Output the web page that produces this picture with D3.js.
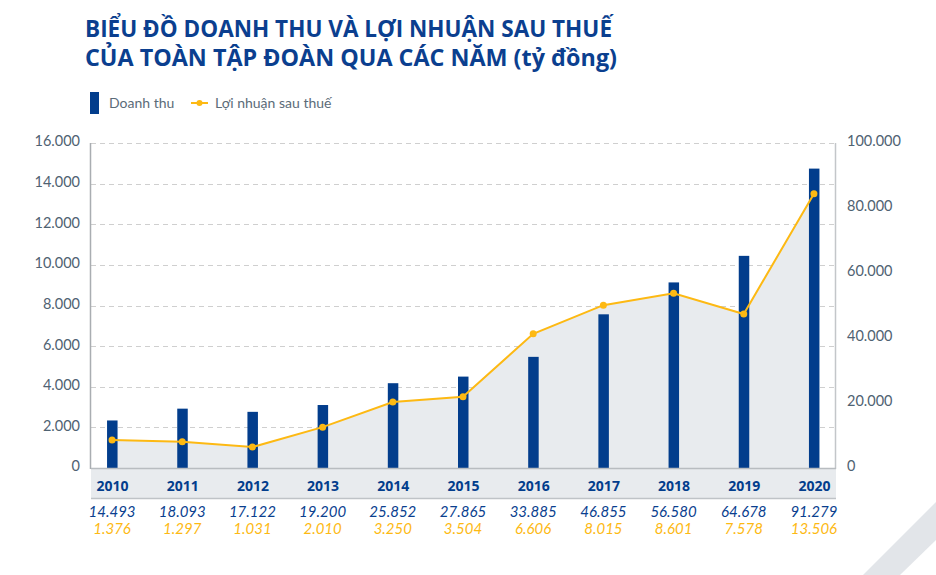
<!DOCTYPE html>
<html><head><meta charset="utf-8">
<script src="https://cdn.jsdelivr.net/npm/d3@7/dist/d3.min.js"></script>
<style>
body{margin:0;background:#fff;}
svg{display:block;font-family:"Lato","Open Sans",sans-serif;}
</style></head>
<body><svg id="c" width="936" height="575"></svg>
<script>
const years = ["2010","2011","2012","2013","2014","2015","2016","2017","2018","2019","2020"];
const revenue = [14493,18093,17122,19200,25852,27865,33885,46855,56580,64678,91279];
const profit = [1376,1297,1031,2010,3250,3504,6606,8015,8601,7578,13506];
const leftTicks = [0,2000,4000,6000,8000,10000,12000,14000,16000];
const rightTicks = [0,20000,40000,60000,80000,100000];
const titleLines = ["BIỂU ĐỒ DOANH THU VÀ LỢI NHUẬN SAU THUẾ","CỦA TOÀN TẬP ĐOÀN QUA CÁC NĂM (tỷ đồng)"];
const legendLabels = ["Doanh thu","Lợi nhuận sau thuế"];

const fmt = v => d3.format(",")(v).replace(/,/g,".");
const BLUE = "#023d8c", GOLD = "#fdb913", AXIS = "#4f6272";
const svg = d3.select("#c");
const L = 91, R = 835, T = 143, B = 468;

const x = d3.scalePoint().domain(years).range([L,R]).padding(0.3);
const yL = d3.scaleLinear().domain([0,16000]).range([B,T]);
const yR = d3.scaleLinear().domain([0,100000]).range([B,T-3]);

// decorative stripe
svg.append("polygon").attr("points","863,575 936,502 936,540 900,575").attr("fill","#e2e5e9");

// title
const titleW = [527,532];
svg.append("g").selectAll("text").data(titleLines).join("text")
  .attr("x",85).attr("y",(d,i)=>37+i*29)
  .attr("font-family","'Open Sans',sans-serif").attr("font-weight",700).attr("font-size",22.5)
  .attr("textLength",(d,i)=>titleW[i]).attr("lengthAdjust","spacingAndGlyphs")
  .attr("fill","#0b3f8f").text(d=>d);

// legend
svg.append("rect").attr("x",90).attr("y",92).attr("width",9).attr("height",22).attr("fill",BLUE);
svg.append("text").attr("x",109).attr("y",108).attr("font-size",14).attr("fill","#5b6b78").text(legendLabels[0]);
svg.append("line").attr("x1",191).attr("x2",208).attr("y1",103).attr("y2",103).attr("stroke",GOLD).attr("stroke-width",2);
svg.append("circle").attr("cx",199.5).attr("cy",103).attr("r",3).attr("fill",GOLD);
svg.append("text").attr("x",215).attr("y",108).attr("font-size",14).attr("fill","#5b6b78").text(legendLabels[1]);

// grid
svg.append("g").selectAll("line").data(leftTicks.slice(1)).join("line")
  .attr("x1",L).attr("x2",R).attr("y1",d=>Math.round(yL(d))+0.5).attr("y2",d=>Math.round(yL(d))+0.5)
  .attr("stroke","#cfcfcf").attr("stroke-dasharray","5,4");

// area
const area = d3.area().x((d,i)=>x(years[i])).y0(B).y1(d=>yL(d));
svg.append("path").datum(profit).attr("d",area).attr("fill","#e8ebee");

// bottom band
svg.append("rect").attr("x",L).attr("y",B+1).attr("width",R-L+1).attr("height",29).attr("fill","#e8ebee");
svg.append("line").attr("x1",L).attr("x2",R+1).attr("y1",B+30.5).attr("y2",B+30.5).attr("stroke","#bfc3c7").attr("stroke-width",1.5);

// bars
svg.append("g").selectAll("rect").data(revenue).join("rect")
  .attr("x",(d,i)=>x(years[i])-5).attr("width",10.5)
  .attr("y",d=>yR(d)).attr("height",d=>B-yR(d)).attr("fill",BLUE);

// axes lines
svg.append("line").attr("x1",L-0.5).attr("x2",L-0.5).attr("y1",T).attr("y2",B+1).attr("stroke","#a9adb1").attr("stroke-width",1.5);
svg.append("line").attr("x1",R+0.5).attr("x2",R+0.5).attr("y1",T).attr("y2",B+1).attr("stroke","#c3c6c9").attr("stroke-width",1.5);
svg.append("line").attr("x1",L).attr("x2",R+1).attr("y1",B+0.5).attr("y2",B+0.5).attr("stroke","#b8bcc0").attr("stroke-width",1.5);

// line
const line = d3.line().x((d,i)=>x(years[i])).y(d=>yL(d));
svg.append("path").datum(profit).attr("d",line).attr("fill","none").attr("stroke",GOLD).attr("stroke-width",2);
svg.append("g").selectAll("circle").data(profit).join("circle")
  .attr("cx",(d,i)=>x(years[i])).attr("cy",d=>yL(d)).attr("r",3.5).attr("fill",GOLD);

// axis labels
const axL = d3.axisLeft(yL).tickValues(leftTicks).tickFormat(fmt).tickSize(0).tickPadding(0);
const gL = svg.append("g").attr("transform",`translate(80,0)`).call(axL);
const axR = d3.axisRight(yR.copy().range([B,T])).tickValues(rightTicks).tickFormat(fmt).tickSize(0).tickPadding(0);
const gR = svg.append("g").attr("transform",`translate(847,0)`).call(axR);
[gL,gR].forEach(g=>{
  g.select(".domain").remove();
  g.selectAll("text").attr("font-family","'Lato',sans-serif").attr("font-size",14.5).attr("fill",AXIS).attr("dy","0.2em");
});

// x labels
const axX = d3.axisBottom(x).tickSize(0).tickPadding(0);
const gX = svg.append("g").attr("transform",`translate(0,${B+13})`).call(axX);
gX.select(".domain").remove();
gX.selectAll("text").attr("font-family","'Open Sans',sans-serif").attr("font-weight",700).attr("font-size",14).attr("fill",BLUE);

// value rows
svg.append("g").selectAll("text").data(revenue).join("text")
  .attr("x",(d,i)=>x(years[i])).attr("y",517).attr("text-anchor","middle")
  .attr("font-style","italic").attr("font-size",15).attr("fill","#0b3f8f").text(fmt);
svg.append("g").selectAll("text").data(profit).join("text")
  .attr("x",(d,i)=>x(years[i])).attr("y",534).attr("text-anchor","middle")
  .attr("font-style","italic").attr("font-size",15).attr("fill",GOLD).text(fmt);
</script></body></html>
